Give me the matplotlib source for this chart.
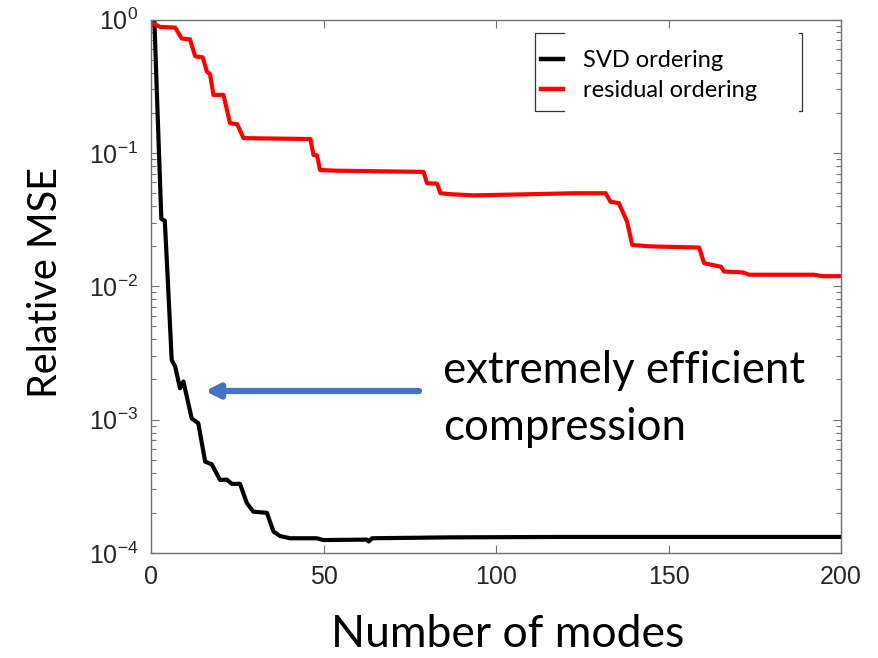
import math
import matplotlib
matplotlib.use("Agg")
import matplotlib.pyplot as plt
import matplotlib.ticker as mticker
from matplotlib.lines import Line2D

# 数据
svd_modes = [1, 2, 3, 4, 5, 6, 7, 8.4, 9.4, 11.8, 13.7, 15.7, 17.6, 20, 22, 23.4, 25.8,
             27.8, 29.7, 33.6, 35.5, 37.4, 40.3, 48, 50, 62.5, 63.1, 64.1, 87, 120, 200]
svd_mse = [0.95, 0.17, 0.032, 0.031, 0.0095, 0.0028, 0.0025, 0.00172, 0.00193, 0.00102,
           0.00094, 0.000484, 0.000463, 0.000353, 0.000355, 0.00033, 0.00033,
           0.000236, 0.000204, 0.0002, 0.000145, 0.000134, 0.000129, 0.000129, 0.000125,
           0.000126, 0.000122, 0.000129, 0.000131, 0.000132, 0.000132]

res_modes = [1, 2.6, 7, 8.9, 11.3, 12.8, 15, 16.2, 17.1, 18.1, 21, 22.9, 25, 26.8, 46.2,
             47.1, 48.1, 49, 53.9, 79, 80, 82.9, 83.9, 86.8, 93.6, 122.6, 131.8, 133.2,
             135.6, 138, 139.5, 144.8, 158.9, 160.3, 165.2, 166.1, 171.5, 173.4, 192.2,
             194.7, 200]
res_mse = [0.925, 0.88, 0.87, 0.72, 0.71, 0.53, 0.52, 0.406, 0.39, 0.272, 0.272, 0.167,
           0.164, 0.129, 0.127, 0.0964, 0.096, 0.0744, 0.0735, 0.072, 0.0592, 0.0588,
           0.0498, 0.049, 0.048, 0.0498, 0.0498, 0.043, 0.042, 0.0305, 0.0204, 0.0199,
           0.0195, 0.0149, 0.014, 0.0129, 0.0127, 0.0122, 0.0122, 0.0119, 0.0119]

labels = ["SVD ordering", "residual ordering"]
x_ticks = [0, 50, 100, 150, 200]
note_lines = ["extremely efficient", "compression"]

plt.rcParams["mathtext.fontset"] = "custom"
plt.rcParams["mathtext.rm"] = "Liberation Sans"
plt.rcParams["mathtext.it"] = "Liberation Sans"

W, H = 879, 658
fig = plt.figure(figsize=(W / 100, H / 100), dpi=100)
ax = fig.add_axes([151 / W, 1 - 553 / H, 690 / W, 533.5 / H])

ax.plot(svd_modes, svd_mse, color="black", lw=3, label=labels[0])
ax.plot(res_modes, res_mse, color="red", lw=3, label=labels[1])

ax.set_yscale("log")
ax.set_xlim(0, 200)
ax.set_ylim(1e-4, 1)
ax.set_xticks(x_ticks)
ax.set_xticklabels([str(t) for t in x_ticks])
ax.yaxis.set_major_locator(mticker.LogLocator(base=10, numticks=10))
ax.yaxis.set_minor_locator(mticker.LogLocator(base=10, subs=range(2, 10), numticks=10))
ax.yaxis.set_minor_formatter(mticker.NullFormatter())
ax.yaxis.set_major_formatter(mticker.FuncFormatter(
    lambda v, p: r"$\mathregular{10^{%d}}$" % round(math.log10(v))))

spine_col = "#707070"
for s in ax.spines.values():
    s.set_color(spine_col)
    s.set_linewidth(1.0)
ax.tick_params(which="both", direction="in", top=True, right=True, color=spine_col,
               labelcolor="#262626", labelsize=18, width=0.8)
ax.tick_params(which="major", length=6, pad=9)
ax.tick_params(which="minor", length=3.5)
for lab in ax.get_xticklabels() + ax.get_yticklabels():
    lab.set_family("Liberation Sans")

ax.set_xlabel("Number of modes", fontsize=32, family="Lato")
ax.xaxis.set_label_coords((508 - 151) / 690, -(614 - 553) / 533.5)
ax.set_ylabel("Relative MSE", fontsize=28.5, family="Lato")
ax.yaxis.set_label_coords(-(151 - 64) / 690, (553 - 282) / 533.5)

# 图例
leg = ax.legend(loc="upper left", bbox_to_anchor=(541 / W, 1 - 50 / H),
                bbox_transform=fig.transFigure, frameon=False,
                prop={"family": "Lato", "size": 17}, handlelength=0.95,
                handletextpad=0.85, labelspacing=0.4, borderpad=0, borderaxespad=0)
for h in leg.get_lines():
    h.set_linewidth(3.2)

# 图例括号框
def px(x, y):
    return x / W, 1 - y / H

bx = [(563.5, 33), (535, 33), (535, 111), (563.5, 111)]
fig.add_artist(Line2D([px(*p)[0] for p in bx], [px(*p)[1] for p in bx],
                      color="#333333", lw=0.9))
bx = [(799.5, 33), (801.7, 33), (801.7, 111), (799.5, 111)]
fig.add_artist(Line2D([px(*p)[0] for p in bx], [px(*p)[1] for p in bx],
                      color="#333333", lw=0.9))

# 箭头和文字注释
ax.annotate("", xy=(205 / W, 1 - 391 / H), xytext=(419 / W, 1 - 391 / H),
            xycoords="figure fraction", textcoords="figure fraction",
            arrowprops=dict(arrowstyle="-|>,head_length=0.8,head_width=0.4",
                            color="#4472C4", lw=4.5, shrinkA=0, shrinkB=0))
fig.text(443 / W, 1 - 383 / H, note_lines[0], fontsize=31.5, family="Lato",
         va="baseline", ha="left")
fig.text(443 / W, 1 - 440 / H, note_lines[1], fontsize=31.5, family="Lato",
         va="baseline", ha="left")

fig.savefig("out.png", dpi=100)
